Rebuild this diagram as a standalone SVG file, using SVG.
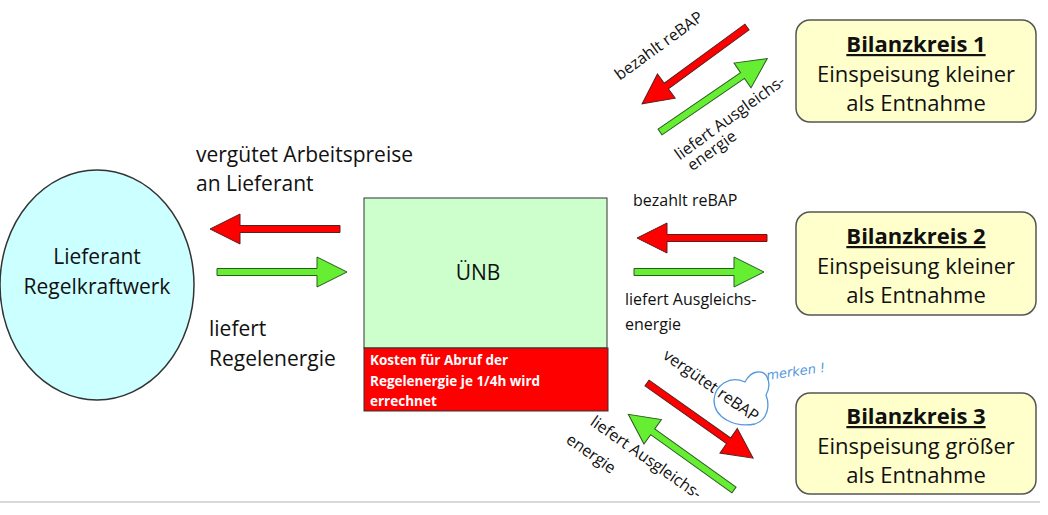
<svg xmlns="http://www.w3.org/2000/svg" width="1048" height="515" viewBox="0 0 1048 515">
<style>
text{font-family:"Open Sans","Liberation Sans",sans-serif;fill:#111}
.l{font-size:21px}
.s{font-size:16px}
.bk{font-size:22px;text-anchor:middle}
.t{font-weight:bold;text-decoration:underline}
.r{fill:#ff0000;stroke:#5a2020;stroke-width:1}
.g{fill:#66ee33;stroke:#2a5a20;stroke-width:1}
</style>
<defs>
<polygon id="ar" points="0,-3.5 100,-3.5 100,-15 130,0 100,15 100,3.5 0,3.5"/>
</defs>
<rect width="1048" height="515" fill="#fff"/>
<line x1="0" y1="502" x2="1040" y2="502" stroke="#ccc" stroke-width="1.5"/>
<g id="lieferant">
<ellipse cx="97" cy="285" rx="97" ry="115" fill="#ccffff" stroke="#333" stroke-width="1.5"/>
<text class="l" x="97" y="264" text-anchor="middle">Lieferant</text>
<text class="l" x="97" y="294" text-anchor="middle">Regelkraftwerk</text>
</g>
<g id="uenb">
<rect x="364" y="198" width="243" height="150" fill="#ccffcc" stroke="#333"/>
<text class="l" x="478" y="280" text-anchor="middle">ÜNB</text>
<rect x="364" y="348" width="244" height="63" fill="#ff0000" stroke="#333"/>
<text x="370" y="365" style="font-size:13.5px;font-weight:bold;fill:#fff">Kosten für Abruf der</text>
<text x="370" y="386" style="font-size:13.5px;font-weight:bold;fill:#fff">Regelenergie je 1/4h wird</text>
<text x="370" y="406" style="font-size:13.5px;font-weight:bold;fill:#fff">errechnet</text>
</g>
<g id="bk1">
<rect x="796" y="20" width="240" height="102" rx="14" fill="#ffffcc" stroke="#555" stroke-width="1.5"/>
<text class="bk t" x="916" y="52">Bilanzkreis 1</text>
<text class="bk" x="916" y="82">Einspeisung kleiner</text>
<text class="bk" x="916" y="111">als Entnahme</text>
</g>
<g id="bk2">
<rect x="796" y="212" width="240" height="103" rx="14" fill="#ffffcc" stroke="#555" stroke-width="1.5"/>
<text class="bk t" x="916" y="244">Bilanzkreis 2</text>
<text class="bk" x="916" y="274">Einspeisung kleiner</text>
<text class="bk" x="916" y="303">als Entnahme</text>
</g>
<g id="bk3">
<rect x="796" y="393" width="240" height="101" rx="14" fill="#ffffcc" stroke="#555" stroke-width="1.5"/>
<text class="bk t" x="916" y="424">Bilanzkreis 3</text>
<text class="bk" x="916" y="454">Einspeisung größer</text>
<text class="bk" x="916" y="483">als Entnahme</text>
</g>
<g id="connectors">
<use href="#ar" class="r" transform="translate(340,229) rotate(180)"/>
<use href="#ar" class="g" transform="translate(217,272)"/>
<use href="#ar" class="r" transform="translate(767,238) rotate(180)"/>
<use href="#ar" class="g" transform="translate(634,272)"/>
<use href="#ar" class="r" transform="translate(747,27) rotate(143.8)"/>
<use href="#ar" class="g" transform="translate(660,132) rotate(-34.4)"/>
<use href="#ar" class="r" transform="translate(647,383) rotate(35.3)"/>
<use href="#ar" class="g" transform="translate(734,490) rotate(215.6)"/>
</g>
<g id="labels">
<text class="l" x="196" y="162">vergütet Arbeitspreise</text>
<text class="l" x="196" y="191">an Lieferant</text>
<text class="l" x="209" y="336">liefert</text>
<text class="l" x="209" y="366">Regelenergie</text>
<text class="s" x="633" y="206">bezahlt reBAP</text>
<text class="s" x="625" y="305">liefert Ausgleichs-</text>
<text class="s" x="625" y="330">energie</text>
<text class="s" text-anchor="middle" transform="translate(662,50) rotate(-36)">bezahlt reBAP</text>
<text class="s" text-anchor="middle" transform="translate(733,122) rotate(-36)">liefert Ausgleichs-</text>
<text class="s" text-anchor="middle" transform="translate(715,155) rotate(-36)">energie</text>
<text class="s" text-anchor="middle" transform="translate(708,390) rotate(35)">vergütet reBAP</text>
<text class="s" text-anchor="middle" transform="translate(643,462) rotate(35)">liefert Ausgleichs-</text>
<text class="s" text-anchor="middle" transform="translate(588,458) rotate(35)">energie</text>
</g>
<g id="note">
<path d="M745,382 C730,375 715,385 714,400 C714,418 735,428 755,424 C768,420 770,405 766,395 C772,385 768,370 757,372 C750,373 747,378 745,382 Z" fill="none" stroke="#5599dd" stroke-width="1.3"/>
<text x="767" y="380" transform="rotate(-8 767 380)" style="font-family:'DejaVu Sans',sans-serif;font-size:13px;fill:#5599dd;font-style:italic">merken !</text>
</g>
</svg>
